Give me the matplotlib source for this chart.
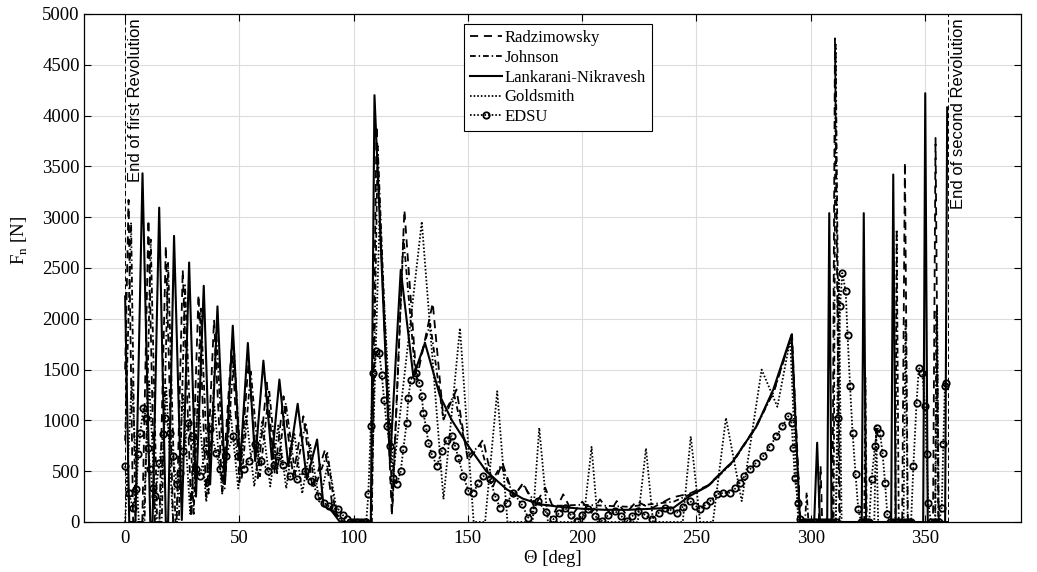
import matplotlib
matplotlib.use("Agg")
import matplotlib.pyplot as plt

# ---------------- data (theta [deg], Fn [N]) ----------------
lankarani = [(0, 2220), (1.8, 0), (4.5, 0), (7.6, 3432), (11.0, 0), (12.0, 0), (14.9, 3094), (17.8, 0),
             (18.8, 0), (21.4, 2816), (24.8, 20), (28.0, 2554), (31.0, 250), (34.4, 2325), (37.2, 370),
             (40.4, 2122), (43.7, 390), (47.1, 1932), (50.3, 550), (53.7, 1762), (56.9, 600), (60.5, 1588),
             (64.2, 616), (67.5, 1402), (71.4, 550), (75.5, 1163), (79.5, 420), (84.0, 812), (86.8, 157),
             (90.0, 120), (94.0, 0), (107.5, 0), (109.1, 4201), (115.9, 586), (120.6, 2482), (126.1, 1434),
             (131.2, 1762), (137.8, 1238), (143.0, 1000), (150.2, 747), (158.0, 500), (167.0, 321),
             (174.0, 230), (181.5, 174), (190.0, 150), (200.0, 130), (210.0, 120), (220.0, 120), (230.0, 130),
             (240.0, 141), (247.0, 255), (255.0, 354), (266.0, 599), (276.3, 943), (283.6, 1303), (291.6, 1844),
             (295.3, 0), (301.5, 0), (302.8, 780), (304.0, 0), (307.2, 0), (308.1, 3040), (309.1, 0),
             (322.3, 0), (323.2, 3040), (324.2, 0), (335.2, 0), (336.1, 3420), (337.2, 0), (349.2, 0),
             (350.1, 4220), (351.2, 0), (358.8, 0), (359.7, 4080)]

radzimowsky = [(0, 1500), (1.5, 3170), (3.5, 0), (7.5, 0), (10.2, 2973), (13.0, 0), (15.0, 0), (17.8, 2718),
               (21.0, 0), (22.5, 0), (25.2, 2482), (29.0, 50), (32.1, 2237), (35.5, 250), (38.9, 1990),
               (42.5, 300), (46.7, 1765), (50.0, 390), (54.0, 1568), (58.0, 430), (62.0, 1372), (65.5, 470),
               (69.3, 1238), (73.5, 450), (78.0, 1041), (82.0, 330), (87.5, 714), (91.0, 100), (95.0, 0),
               (107.8, 0), (110.0, 3900), (116.7, 59), (122.2, 3070), (127.5, 1400), (134.6, 2155),
               (139.3, 1009), (145.0, 1304), (150.0, 600), (156.7, 812), (161.0, 350), (165.1, 583),
               (170.0, 250), (174.2, 387), (179.0, 150), (183.8, 338), (188.0, 100), (191.7, 272), (196.0, 80),
               (200.0, 200), (204.0, 90), (207.8, 223), (212.0, 90), (215.1, 206), (219.0, 80), (223.8, 206),
               (230.0, 130), (239.1, 240), (247.0, 280), (255.0, 360), (266.0, 600), (276.0, 940),
               (284.0, 1300), (291.8, 1850), (295.5, 0), (303.5, 0), (304.3, 550), (305.0, 0), (309.5, 0),
               (310.6, 4760), (312.5, 0), (340.0, 0), (341.2, 3540), (342.5, 0), (353.5, 0), (354.6, 3780),
               (356.0, 0), (360.0, 0)]

johnson = [(0, 800), (2.6, 2950), (4.5, 0), (8.5, 0), (11.2, 2780), (14.0, 0), (16.0, 0), (18.8, 2550),
           (22.0, 0), (23.5, 0), (26.2, 2330), (30.0, 80), (33.1, 2100), (36.5, 280), (39.9, 1860), (43.5, 330),
           (47.7, 1660), (51.0, 420), (55.0, 1480), (59.0, 450), (63.0, 1300), (66.5, 480), (70.3, 1170),
           (74.5, 460), (79.0, 980), (83.0, 340), (88.5, 680), (92.0, 90), (96.0, 0), (107.9, 0),
           (110.5, 3700), (117.0, 150), (121.8, 2800), (127.0, 1450), (133.5, 1950), (139.0, 1050),
           (144.0, 1250), (150.0, 650), (155.5, 760), (160.0, 380), (164.5, 560), (170.0, 260), (174.0, 370),
           (180.0, 170), (190.0, 160), (200.0, 170), (220.0, 150), (240.0, 200), (255.0, 350), (266.0, 590),
           (276.0, 930), (284.0, 1290), (291.7, 1840), (295.4, 0), (297.5, 0), (298.2, 290), (299.0, 0),
           (310.0, 0), (310.9, 4700), (312.8, 0), (323.4, 0), (323.9, 1420), (324.5, 0), (337.0, 0),
           (337.6, 2880), (338.5, 0), (354.4, 0), (355.0, 2090), (355.8, 0), (360.0, 0)]

goldsmith = [(0, 0), (2.9, 1402), (6.0, 0), (8.0, 0), (10.5, 1400), (13.5, 0), (15.0, 0), (18.0, 1320),
             (21.0, 0), (22.5, 0), (25.2, 1260), (28.5, 80), (32.0, 1200), (35.5, 200), (39.0, 1150),
             (42.5, 280), (46.0, 1100), (49.5, 330), (53.0, 1050), (56.5, 350), (60.0, 1000), (63.5, 350),
             (67.0, 950), (70.5, 330), (74.0, 880), (77.5, 280), (81.0, 760), (85.0, 200), (89.0, 600),
             (93.0, 50), (96.0, 0), (107.5, 0), (111.3, 2972), (117.4, 485), (129.8, 2957), (139.3, 223),
             (146.5, 1910), (152.5, 0), (157.5, 0), (162.8, 1287), (167.3, 0), (178.3, 0), (181.2, 927),
             (185.0, 0), (200.5, 0), (204.1, 740), (206.8, 0), (224.3, 0), (227.9, 725), (231.0, 0),
             (244.0, 0), (247.5, 842), (251.6, 0), (257.2, 0), (262.9, 1025), (269.8, 206), (278.5, 1500),
             (285.4, 1134), (291.0, 1795), (294.5, 0), (311.0, 0), (312.3, 2400), (313.5, 0), (327.8, 0),
             (328.6, 950), (329.5, 0), (340.6, 0), (341.5, 1990), (342.4, 0), (354.5, 0), (355.3, 2120),
             (356.0, 0), (360.0, 0)]

edsu = [(0, 550), (1.5, 289), (3.4, 141), (4.8, 321), (5.8, 665), (6.6, 878), (8.0, 1124), (9.2, 1025),
        (10.2, 731), (10.9, 518), (12.1, 338), (13.1, 255), (15.0, 583), (16.5, 862), (17.5, 1025),
        (19.7, 878), (20.9, 648), (22.6, 370), (24.1, 485), (25.5, 697), (27.7, 976), (29.2, 845), (31.1, 518),
        (32.8, 452), (35.4, 731), (37.2, 911), (39.8, 682), (41.6, 518), (44.0, 650), (47.4, 845), (49.5, 650),
        (51.8, 518), (54.0, 600), (56.9, 763), (59.5, 600), (62.7, 501), (65.0, 560), (67.1, 648), (69.0, 560),
        (72.0, 450), (75.1, 419), (78.7, 501), (81.5, 400), (84.6, 255), (87.0, 190), (89.0, 157), (91.0, 140),
        (93.3, 125), (95.2, 70), (97.0, 27), (98.5, 0), (99.7, 0), (100.9, 0), (102.1, 0), (103.3, 0),
        (104.5, 0), (105.5, 0), (106.4, 272), (107.5, 943), (108.6, 1467), (109.8, 1680), (111.2, 1664),
        (112.3, 1451), (113.3, 1205), (114.5, 943), (115.9, 747), (117.4, 436), (118.9, 370), (120.6, 501),
        (121.7, 714), (123.2, 976), (123.9, 1222), (125.0, 1402), (127.3, 1467), (128.7, 1369), (129.8, 1238),
        (130.5, 1075), (131.7, 927), (132.7, 780), (134.2, 665), (136.4, 550), (138.5, 697), (140.7, 812),
        (142.9, 845), (144.4, 747), (145.8, 633), (148.0, 452), (150.2, 305), (152.4, 289), (154.5, 380),
        (156.7, 452), (159.7, 419), (162.0, 250), (164.0, 141), (167.0, 190), (169.9, 289), (173.5, 174),
        (176.4, 43), (178.5, 120), (180.8, 206), (184.0, 100), (187.4, 27), (190.0, 90), (192.5, 141),
        (195.0, 70), (197.6, 10), (200.0, 70), (202.7, 125), (205.5, 60), (208.5, 10), (211.5, 70),
        (214.3, 108), (217.0, 60), (219.5, 10), (222.0, 60), (224.6, 108), (227.5, 70), (230.4, 27),
        (233.5, 90), (236.2, 141), (238.5, 120), (241.3, 92), (244.0, 150), (247.2, 206), (249.5, 160),
        (251.6, 125), (254.0, 170), (256.0, 206), (258.8, 272), (261.5, 285), (264.7, 289), (267.0, 330),
        (269.0, 387), (271.0, 450), (273.4, 518), (276.0, 580), (279.2, 648), (282.0, 740), (285.0, 845),
        (287.5, 940), (290.2, 1041), (291.6, 976), (292.3, 731), (293.0, 436), (294.5, 190), (295.3, 27),
        (296.5, 0), (297.7, 0), (298.9, 0), (300.1, 0), (301.3, 0), (302.5, 0), (303.7, 0), (304.9, 0),
        (306.1, 0), (307.3, 0), (308.5, 0), (309.7, 0), (310.9, 0), (312.0, 1025), (312.8, 2122),
        (313.8, 2450), (315.3, 2269), (316.1, 1844), (317.2, 1336), (318.3, 878), (319.6, 469), (320.8, 125),
        (322.0, 0), (323.2, 0), (324.4, 0), (325.6, 0), (326.6, 419), (328.1, 747), (329.1, 927), (330.3, 878),
        (331.4, 682), (332.5, 387), (333.5, 76), (334.7, 0), (335.9, 0), (337.1, 0), (338.3, 0), (339.5, 0),
        (340.7, 0), (341.9, 0), (343.1, 0), (343.9, 0), (344.9, 550), (346.3, 1173), (347.3, 1517),
        (348.8, 1467), (350.0, 1140), (350.7, 665), (351.4, 190), (352.6, 0), (353.8, 0), (355.0, 0),
        (356.2, 0), (357.3, 141), (358.0, 763), (358.7, 1336), (359.4, 1369)]

series_labels = ["Radzimowsky", "Johnson", "Lankarani-Nikravesh", "Goldsmith", "EDSU"]
revolution_marks = [0, 360]
revolution_texts = ["End of first Revolution", "End of second Revolution"]
x_ticks = [0, 50, 100, 150, 200, 250, 300, 350]
y_ticks = [0, 500, 1000, 1500, 2000, 2500, 3000, 3500, 4000, 4500, 5000]

# ---------------- figure ----------------
plt.rcParams["font.family"] = ["Liberation Serif", "DejaVu Serif"]
plt.rcParams["mathtext.fontset"] = "custom"
plt.rcParams["mathtext.rm"] = "Liberation Serif"

W, H = 1037, 572
fig = plt.figure(figsize=(W / 100, H / 100), dpi=100)
L, R, T, B = 84, 1021, 14, 522
ax = fig.add_axes([L / W, (H - B) / H, (R - L) / W, (B - T) / H])

def xy(pairs):
    return [p[0] for p in pairs], [p[1] for p in pairs]

lw = 1.3
x, y = xy(radzimowsky)
ax.plot(x, y, color="k", lw=lw, dashes=(4.5, 3.2), label=series_labels[0])
x, y = xy(johnson)
ax.plot(x, y, color="k", lw=lw, dashes=(3.2, 1.6, 0.8, 1.6), label=series_labels[1])
x, y = xy(lankarani)
ax.plot(x, y, color="k", lw=lw + 0.2, ls="-", label=series_labels[2])
x, y = xy(goldsmith)
ax.plot(x, y, color="k", lw=lw, dashes=(0.9, 1.1), label=series_labels[3])
x, y = xy(edsu)
ax.plot(x, y, color="k", lw=lw, dashes=(0.9, 1.1), marker="o", ms=4.6, mfc="none",
        mec="k", mew=1.3, label=series_labels[4])

for xm, txt in zip(revolution_marks, revolution_texts):
    ax.axvline(xm, color="k", lw=0.7, ls=(0, (5, 3)))
    ax.text(xm + 1.2, 4960, txt, rotation=90, ha="left", va="top", fontsize=12,
            family=["Liberation Sans", "DejaVu Sans"])

ax.set_xlim(-18, 392)
ax.set_ylim(0, 5000)
ax.set_xticks(x_ticks)
ax.set_yticks(y_ticks)
ax.tick_params(direction="in", length=5, width=0.8, top=True, right=True, labelsize=13.5)
ax.tick_params(axis="x", pad=6)
ax.tick_params(axis="y", pad=3)
ax.grid(True, color="#dcdcdc", lw=0.8)
ax.set_axisbelow(True)
for s in ax.spines.values():
    s.set_linewidth(0.9)

ax.set_xlabel("Θ [deg]", fontsize=13.5, labelpad=2)
ax.set_ylabel(r"F$_{\mathregular{n}}$ [N]", fontsize=13.5)
ax.yaxis.set_label_coords(-0.058, 0.555)

leg = ax.legend(loc="upper left", bbox_to_anchor=((464 - L) / (R - L), 1 - (24 - T) / (B - T)),
                borderaxespad=0, fontsize=12, frameon=True, fancybox=False, framealpha=1,
                edgecolor="k", handlelength=1.9, handletextpad=0.2, borderpad=0.35,
                labelspacing=0.23, numpoints=1)
leg.get_frame().set_linewidth(0.8)

fig.savefig("out.png", dpi=100)
